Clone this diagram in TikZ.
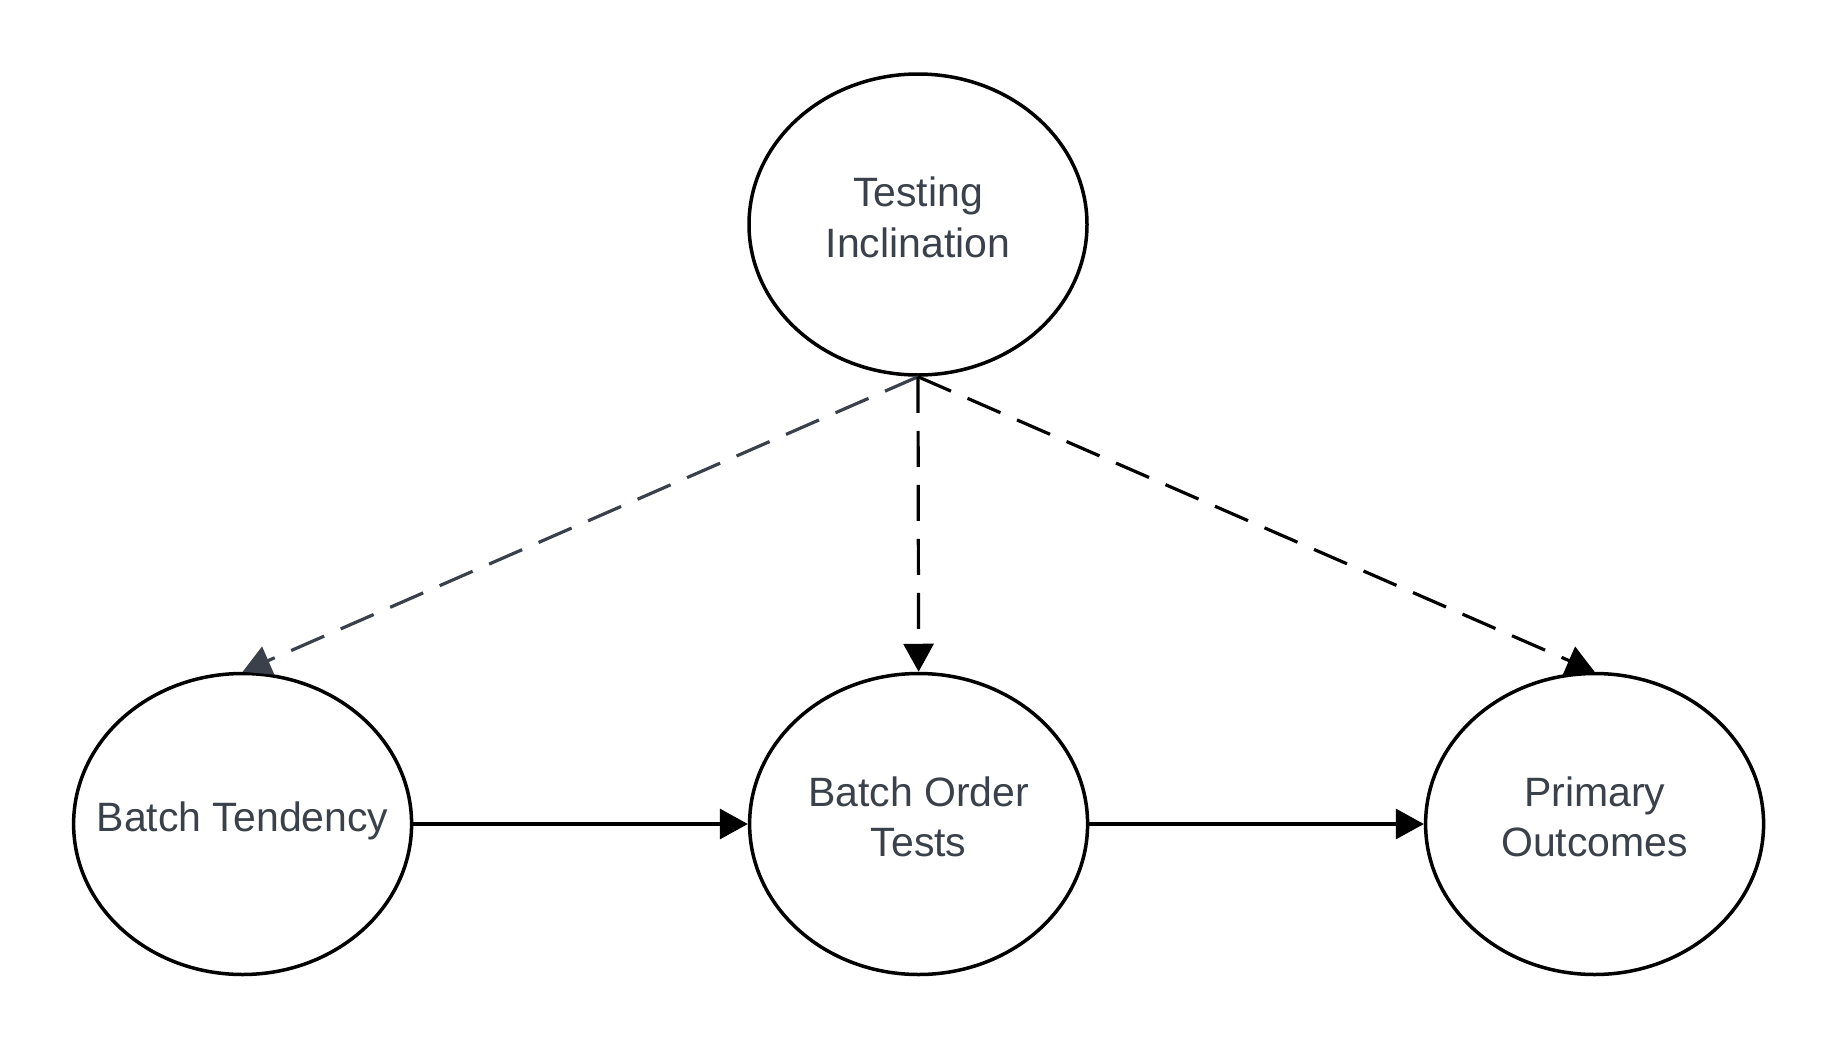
\documentclass[tikz,border=0pt]{standalone}
\usepackage{fontspec}
\setmainfont{Liberation Sans}
\usepackage{xcolor}
\usetikzlibrary{positioning,arrows.meta,shapes.geometric}
\definecolor{textgray}{RGB}{58, 65, 74}
\tikzset{
    factor/.style={ellipse, draw=black, line width=1.75pt, minimum width=169pt, minimum height=150.5pt, inner xsep=-20pt, inner ysep=0pt, text depth=7.5pt, align=center, text=textgray, font=\fontsize{20.5pt}{25.2pt}\selectfont},
    solid arrow/.style={-{Triangle[length=14pt,width=15pt]}, line width=1.6pt, black},
    dashed arrow/.style={solid arrow, dash pattern=on 18pt off 9pt}
}
\begin{document}
\begin{tikzpicture}[x=1pt,y=1pt]
\useasboundingbox (0,0) rectangle (919,-525);
\node[factor] (incl) at (459,-112.25) {Testing\\Inclination};
\node[factor] (tend) at (121.3,-412) {Batch Tendency};
\node[factor, right=167.25pt of tend] (order) {Batch Order\\Tests};
\node[factor, right=167.25pt of order] (outcome) {Primary\\Outcomes};

\draw[solid arrow] (tend) -- (order);
\draw[solid arrow] (order) -- (outcome);
\draw[dashed arrow, textgray] (incl.south) -- (tend.north);
\draw[dashed arrow] (incl.south) -- (order.north);
\draw[dashed arrow] (incl.south) -- (outcome.north);
\end{tikzpicture}
\end{document}
